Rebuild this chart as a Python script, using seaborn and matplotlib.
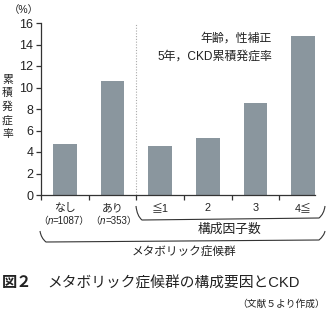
import matplotlib
matplotlib.use("Agg")
import matplotlib.pyplot as plt
import seaborn as sns
import pandas as pd
from matplotlib.path import Path
from matplotlib.patches import PathPatch
from matplotlib.offsetbox import TextArea, HPacker, AnnotationBbox

categories = ["なし", "あり", "≦1", "2", "3", "4≦"]
values = [4.7, 10.6, 4.55, 5.3, 8.6, 14.8]
n_values = ["1087", "353"]
yticks = [0, 2, 4, 6, 8, 10, 12, 14, 16]

sns.set_theme(style="white")
plt.rcParams['font.family'] = ['Liberation Sans', 'Noto Sans CJK JP', 'DejaVu Sans']

TXT = "#222222"
W, H = 327, 324
fig = plt.figure(figsize=(W / 100, H / 100), dpi=100)
ax = fig.add_axes([41 / W, 1 - 195 / H, (315 - 41) / W, (195 - 23) / H])

df = pd.DataFrame({"cat": categories, "val": values})
sns.barplot(data=df, x="cat", y="val", ax=ax, color="#8a969e", width=0.5,
            saturation=1, edgecolor="none")

ax.set_xlim(-0.5, 5.25)
ax.set_ylim(0, 16)
ax.set_yticks(yticks)
ax.set_yticklabels([str(v) for v in yticks], fontsize=9, color=TXT)
ax.set_xlabel("")
ax.set_ylabel("")
ax.set_xticks([i - 0.5 for i in range(6)])
ax.set_xticklabels([])
xt = ax.get_xaxis_transform()
for i, c in enumerate(categories):
    ax.text(i, -0.076, c, transform=xt, ha="center", va="center",
            fontsize=7.8, color=TXT)
for i, nv in enumerate(n_values):
    parts = [TextArea("（", textprops=dict(fontsize=7.0, color=TXT)),
             TextArea("n", textprops=dict(fontsize=7.0, color=TXT,
                                          fontstyle="italic")),
             TextArea("=" + nv + "）", textprops=dict(fontsize=7.0, color=TXT))]
    box = HPacker(children=parts, align="baseline", pad=0, sep=0)
    ab = AnnotationBbox(box, (i - 0.02 + 0.04 * i, -0.152), xycoords=xt,
                        frameon=False, box_alignment=(0.5, 0.5), pad=0,
                        annotation_clip=False)
    ax.add_artist(ab)

for s in ["top", "right"]:
    ax.spines[s].set_visible(False)
for s in ["left", "bottom"]:
    ax.spines[s].set_color("#333333")
    ax.spines[s].set_linewidth(0.9)
ax.tick_params(axis="both", which="major", direction="out", length=3.5,
               width=0.9, color="#333333", left=True, bottom=True, pad=2)

ax.axvline(1.5, color="#aaaaaa", linestyle=(0, (1, 1.5)), linewidth=0.8)

ax.text(0.843, 0.907, "年齢，性補正", transform=ax.transAxes, ha="right",
        va="center", fontsize=8.6, color=TXT)
ax.text(0.843, 0.802, "5年，CKD累積発症率", transform=ax.transAxes, ha="right",
        va="center", fontsize=8.6, color=TXT)

def fx(x):
    return x / W

def fy(y):
    return 1 - y / H

fig.text(fx(24), fy(10), "（%）", ha="center", va="center", fontsize=7.5,
         color=TXT)
fig.text(fx(7.5), fy(107), "累\n積\n発\n症\n率", ha="center", va="center",
         fontsize=7.8, linespacing=1.38, color=TXT)

def brace(x0, x1, ytop, ybot, ymid_x):
    verts = [(x0, ytop), (x0 + 1, ybot - 4), (x0 + 6, ybot),
             (ymid_x, ybot - 1),
             (x1 - 6, ybot - 2), (x1 - 1, ybot - 6), (x1, ytop)]
    codes = [Path.MOVETO, Path.CURVE3, Path.CURVE3, Path.LINETO,
             Path.LINETO, Path.CURVE3, Path.CURVE3]
    verts = [(fx(a), fy(b)) for a, b in verts]
    p = PathPatch(Path(verts, codes), transform=fig.transFigure, fill=False,
                  edgecolor="#333333", linewidth=0.8)
    fig.patches.append(p)

brace(136, 325, 206, 220, 230)
brace(40, 325, 231, 242, 183)

fig.text(fx(230), fy(230), "構成因子数", ha="center", va="center",
         fontsize=9.2, color=TXT)
fig.text(fx(184), fy(252), "メタボリック症候群", ha="center", va="center",
         fontsize=8.4, color=TXT)

fig.text(fx(2), fy(283), "図２", ha="left", va="center", fontsize=11,
         fontweight="bold", color=TXT)
fig.text(fx(47), fy(283), "メタボリック症候群の構成要因とCKD", ha="left",
         va="center", fontsize=10.6, color=TXT)
fig.text(fx(325), fy(304), "（文献５より作成）", ha="right", va="center",
         fontsize=7, color=TXT)

fig.savefig("out.png", dpi=100)
